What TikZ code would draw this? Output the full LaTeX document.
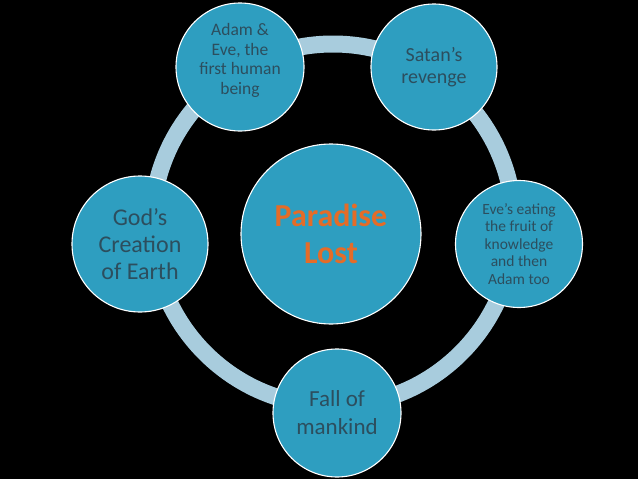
\documentclass[tikz,border=0pt]{standalone}
\usepackage{fontspec}
\setmainfont{Carlito}
\definecolor{bubble}{RGB}{46,158,192}
\definecolor{ringblue}{RGB}{168,204,221}
\definecolor{inktext}{RGB}{44,78,94}
\definecolor{titleorange}{RGB}{228,108,40}
\begin{document}
\begin{tikzpicture}[x=1pt, y=-1pt, line join=round, line cap=round,
		bubble/.style={circle, fill=bubble, draw=white, line width=1.1pt, inner sep=0pt, align=center, text=inktext},
		ringline/.style={draw=ringblue, line width=17pt}]
	\useasboundingbox (0,0) rectangle (638,479);
	\fill[black] (0,0) rectangle (638,479);
	\def\rring{181pt} % radius of the cycle
	\coordinate (hub) at (333,225);
	\draw[ringline] (hub) circle[radius=\rring];
	% centre
	\node[bubble, minimum size=180pt, text=titleorange, font=\bfseries\fontsize{32}{37}\selectfont] (lost) at (331,234) {Paradise\\Lost};
	% around the cycle
	\node[bubble, minimum size=128pt, text depth=16pt, font=\fontsize{17.5}{19.5}\selectfont] (adam) at (240,67) {Adam \&\\Eve, the\\first human\\being};
	\node[bubble, minimum size=126pt, font=\fontsize{20}{22}\selectfont] (satan) at (434,67) {Satan’s\\revenge};
	\node[bubble, minimum size=127pt, font=\fontsize{15.5}{17.5}\selectfont] (eating) at (519,244) {Eve’s eating\\the fruit of\\knowledge\\and then\\Adam too};
	\node[bubble, minimum size=128pt, font=\fontsize{23}{28}\selectfont] (fall) at (337,413) {Fall of\\mankind};
	\node[bubble, minimum size=136pt, font=\fontsize{24}{27}\selectfont] (creation) at (140,244) {God’s\\Creation\\of Earth};
\end{tikzpicture}
\end{document}
